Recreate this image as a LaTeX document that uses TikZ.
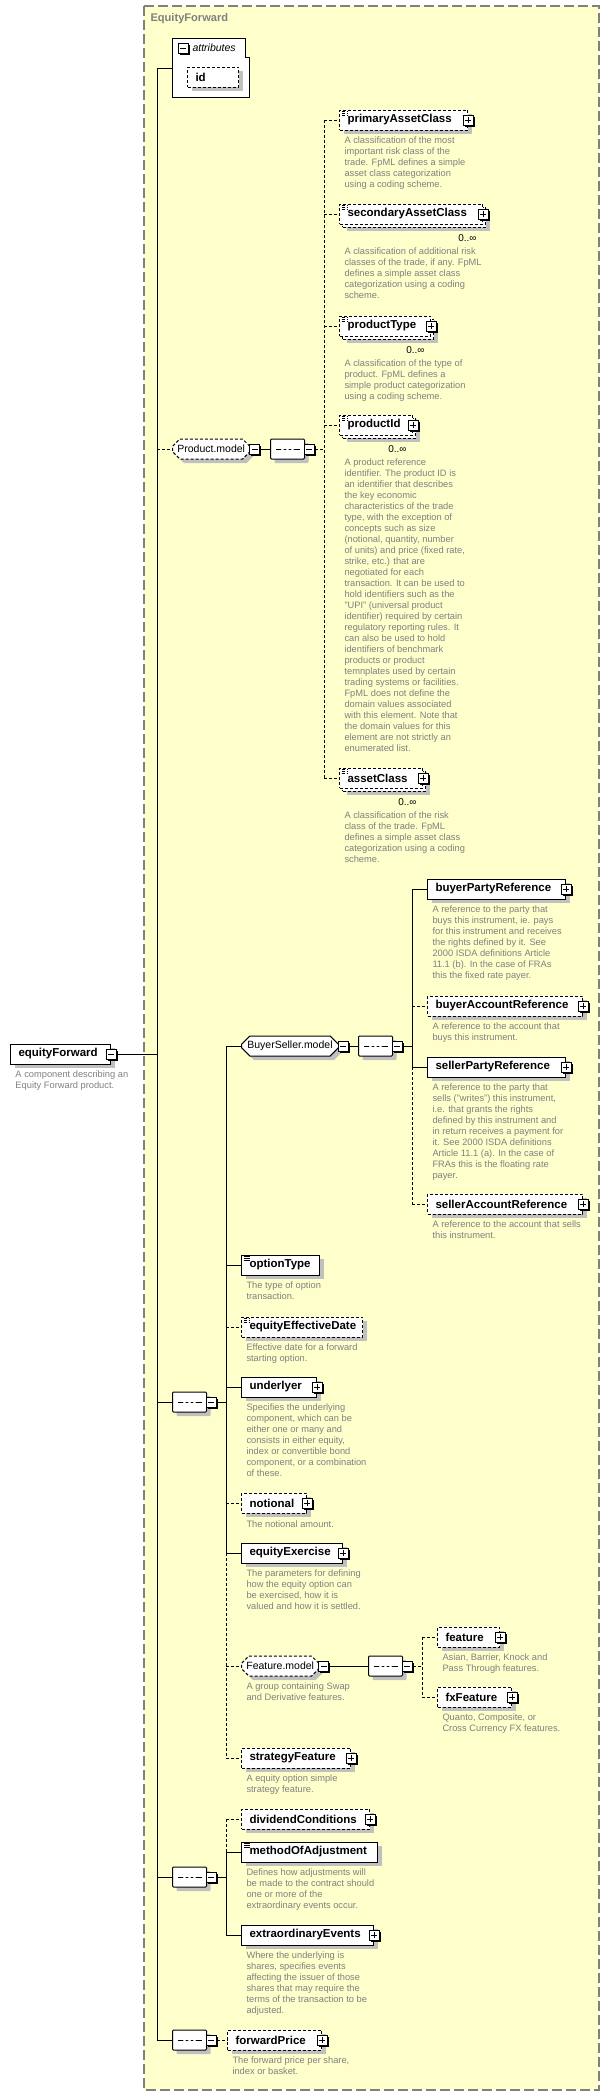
\documentclass[tikz,border=0pt]{standalone}
\usepackage{fontspec}
\setmainfont{Liberation Sans}
\usetikzlibrary{positioning, shapes.misc, shadows}
\definecolor{diagbg}{RGB}{255,255,204}
\definecolor{docgray}{RGB}{128,128,128}
\definecolor{shadegray}{RGB}{192,192,192}

\begin{document}
\begin{tikzpicture}[
    x=1pt, y=-1pt, line width=1pt,
    opt/.style={dash pattern=on 3pt off 2pt},
    elem/.style={draw, fill=white, anchor=west, minimum height=20pt, inner xsep=8pt, inner ysep=0pt,
        text width=#1, align=left, font=\fontsize{11.5}{13}\selectfont\bfseries,
        general shadow={fill=shadegray, shadow xshift=4pt, shadow yshift=-4pt}},
    many/.style={general shadow={fill=shadegray, shadow xshift=7pt, shadow yshift=-7pt},
        general shadow={draw, fill=white, dash pattern=on 3pt off 2pt, shadow xshift=3pt, shadow yshift=-3pt}},
    simple/.style={path picture={
        \draw[line width=0.7pt] ([xshift=2pt, yshift=-1.5pt]path picture bounding box.north west) -- ++(6pt,0)
            ([xshift=2pt, yshift=-3.5pt]path picture bounding box.north west) -- ++(6pt,0)
            ([xshift=2pt, yshift=-5.5pt]path picture bounding box.north west) -- ++(6pt,0);}},
    group/.style={chamfered rectangle, chamfered rectangle xsep=5pt, draw, fill=white, anchor=west,
        minimum height=20pt, inner xsep=1pt, inner ysep=0pt, font=\fontsize{10.5}{12}\selectfont,
        general shadow={fill=shadegray, shadow xshift=4pt, shadow yshift=-4pt}},
    seqbox/.style={group, minimum width=34pt, path picture={
        \draw[solid] ([xshift=-12pt]path picture bounding box.center) -- ([xshift=12pt]path picture bounding box.center);
        \fill ([xshift=-5pt]path picture bounding box.center) circle (1.7pt)
            (path picture bounding box.center) circle (1.7pt)
            ([xshift=5pt]path picture bounding box.center) circle (1.7pt);}},
    iconbox/.style={draw, fill=white, minimum size=10pt, inner sep=0pt, line width=0.8pt,
        general shadow={fill=black, shadow xshift=1.5pt, shadow yshift=-1.5pt}},
    plusicon/.style={iconbox, path picture={
        \draw[line width=0.8pt] ([xshift=-3pt]path picture bounding box.center) -- ([xshift=3pt]path picture bounding box.center)
            ([yshift=-3pt]path picture bounding box.center) -- ([yshift=3pt]path picture bounding box.center);}},
    minusicon/.style={iconbox, path picture={
        \draw[line width=0.8pt] ([xshift=-3pt]path picture bounding box.center) -- ([xshift=3pt]path picture bounding box.center);}},
    desc/.style={font=\fontsize{9.3}{11}\selectfont, text=docgray, align=left, inner sep=0pt, execute at begin node=\strut},
    mult/.style={font=\fontsize{10}{12}\selectfont, inner sep=0pt, anchor=east},
    title/.style={font=\fontsize{11.1}{13}\selectfont\bfseries, text=docgray, anchor=west, inner sep=0pt}
]
\useasboundingbox (0,0) rectangle (610,2096);
\draw[docgray, fill=diagbg, line width=1.2pt, dash pattern=on 10pt off 4pt] (144,6) rectangle (599,2090);
\node[title] (ttl) at (150,19) {EquityForward};

% attributes
\draw[fill=white] (172,38) -- (245,38) -- (245,57) -- (249,57) -- (249,97) -- (172,97) -- cycle;
\coordinate (attr) at (172,68);
\coordinate (spine) at (157,68);
\node[minusicon] (attrM) at (183,48) {};
\node[anchor=west, inner sep=0pt, font=\fontsize{10.5}{12}\selectfont\itshape] (attrL) at (192,48) {attributes};
\node[elem=35pt, opt] (id) at (187,77) {id};

% root
\node[elem=84pt] (ef) at (10,1054) {equityForward};
\node[minusicon] (efM) at (ef.east) {};
\node[desc, below right=6pt and 5pt of ef.south west] (efD) {A component describing an\\Equity Forward product.};

% Product.model
\node[group, opt, minimum width=76pt] (pm) at (172,449) {Product.model};
\node[minusicon, anchor=west] (pmM) at ([xshift=-1pt]pm.east) {};
\node[seqbox] (pseq) at (270,449) {};
\node[minusicon, anchor=west] (pseqM) at ([xshift=-1pt]pseq.east) {};
\coordinate (pbus) at (324,449);

\node[elem=112pt, opt, simple] (pac) at (339,120) {primaryAssetClass};
\node[plusicon] (pacP) at (pac.east) {};
\node[desc, below right=6pt and 5pt of pac.south west] (pacD) {A classification of the most\\important risk class of the\\trade. FpML defines a simple\\asset class categorization\\using a coding scheme.};

\node[elem=127pt, opt, many, simple] (sac) at (339,214) {secondaryAssetClass};
\node[plusicon] (sacP) at (sac.east) {};
\node[mult] (sacN) at ([xshift=-6pt, yshift=-14pt]sac.south east) {0..∞};
\node[desc, below right=23pt and 5pt of sac.south west] (sacD) {A classification of additional risk\\classes of the trade, if any. FpML\\defines a simple asset class\\categorization using a coding\\scheme.};

\node[elem=75pt, opt, many, simple] (pt) at (339,326) {productType};
\node[plusicon] (ptP) at (pt.east) {};
\node[mult] (ptN) at ([xshift=-6pt, yshift=-14pt]pt.south east) {0..∞};
\node[desc, below right=23pt and 5pt of pt.south west] (ptD) {A classification of the type of\\product. FpML defines a\\simple product categorization\\using a coding scheme.};

\node[elem=57pt, opt, many, simple] (pid) at (339,425) {productId};
\node[plusicon] (pidP) at (pid.east) {};
\node[mult] (pidN) at ([xshift=-6pt, yshift=-14pt]pid.south east) {0..∞};
\node[desc, below right=23pt and 5pt of pid.south west] (pidD) {A product reference\\identifier. The product ID is\\an identifier that describes\\the key economic\\characteristics of the trade\\type, with the exception of\\concepts such as size\\(notional, quantity, number\\of units) and price (fixed rate,\\strike, etc.) that are\\negotiated for each\\transaction. It can be used to\\hold identifiers such as the\\"UPI" (universal product\\identifier) required by certain\\regulatory reporting rules. It\\can also be used to hold\\identifiers of benchmark\\products or product\\temnplates used by certain\\trading systems or facilities.\\FpML does not define the\\domain values associated\\with this element. Note that\\the domain values for this\\element are not strictly an\\enumerated list.};

\node[elem=67pt, opt, many, simple] (ac) at (339,778) {assetClass};
\node[plusicon] (acP) at (ac.east) {};
\node[mult] (acN) at ([xshift=-6pt, yshift=-14pt]ac.south east) {0..∞};
\node[desc, below right=23pt and 5pt of ac.south west] (acD) {A classification of the risk\\class of the trade. FpML\\defines a simple asset class\\categorization using a coding\\scheme.};

% main sequence
\node[seqbox] (seqA) at (172,1402) {};
\node[minusicon, anchor=west] (seqAM) at ([xshift=-1pt]seqA.east) {};
\coordinate (busA) at (226,1402);

% BuyerSeller.model
\node[group, minimum width=96pt] (bsm) at (241,1046) {BuyerSeller.model};
\node[minusicon, anchor=west] (bsmM) at ([xshift=-1pt]bsm.east) {};
\node[seqbox] (bsseq) at (358,1046) {};
\node[minusicon, anchor=west] (bsseqM) at ([xshift=-1pt]bsseq.east) {};
\coordinate (bsbus) at (412,1046);

\node[elem=122pt] (bpr) at (427,889) {buyerPartyReference};
\node[plusicon] (bprP) at (bpr.east) {};
\node[desc, below right=6pt and 5pt of bpr.south west] (bprD) {A reference to the party that\\buys this instrument, ie. pays\\for this instrument and receives\\the rights defined by it. See\\2000 ISDA definitions Article\\11.1 (b). In the case of FRAs\\this the fixed rate payer.};

\node[elem=139pt, opt] (bar) at (427,1006) {buyerAccountReference};
\node[plusicon] (barP) at (bar.east) {};
\node[desc, below right=6pt and 5pt of bar.south west] (barD) {A reference to the account that\\buys this instrument.};

\node[elem=122pt] (spr) at (427,1067) {sellerPartyReference};
\node[plusicon] (sprP) at (spr.east) {};
\node[desc, below right=6pt and 5pt of spr.south west] (sprD) {A reference to the party that\\sells ("writes") this instrument,\\i.e. that grants the rights\\defined by this instrument and\\in return receives a payment for\\it. See 2000 ISDA definitions\\Article 11.1 (a). In the case of\\FRAs this is the floating rate\\payer.};

\node[elem=139pt, opt] (sar) at (427,1204) {sellerAccountReference};
\node[plusicon] (sarP) at (sar.east) {};
\node[desc, below right=6pt and 5pt of sar.south west] (sarD) {A reference to the account that sells\\this instrument.};

\node[elem=62pt, simple] (ot) at (241,1265) {optionType};
\node[desc, below right=6pt and 5pt of ot.south west] (otD) {The type of option\\transaction.};

\node[elem=105pt, opt, simple] (eed) at (241,1327) {equityEffectiveDate};
\node[desc, below right=6pt and 5pt of eed.south west] (eedD) {Effective date for a forward\\starting option.};

\node[elem=59pt] (und) at (241,1387) {underlyer};
\node[plusicon] (undP) at (und.east) {};
\node[desc, below right=6pt and 5pt of und.south west] (undD) {Specifies the underlying\\component, which can be\\either one or many and\\consists in either equity,\\index or convertible bond\\component, or a combination\\of these.};

\node[elem=49pt, opt] (ntl) at (241,1503) {notional};
\node[plusicon] (ntlP) at (ntl.east) {};
\node[desc, below right=6pt and 5pt of ntl.south west] (ntlD) {The notional amount.};

\node[elem=85pt] (ex) at (241,1553) {equityExercise};
\node[plusicon] (exP) at (ex.east) {};
\node[desc, below right=6pt and 5pt of ex.south west] (exD) {The parameters for defining\\how the equity option can\\be exercised, how it is\\valued and how it is settled.};

% Feature.model
\node[group, opt, minimum width=77pt] (fm) at (241,1666) {Feature.model};
\node[minusicon, anchor=west] (fmM) at ([xshift=-1pt]fm.east) {};
\node[desc, below right=16pt and 5pt of fm.west] (fmD) {A group containing Swap\\and Derivative features.};
\node[seqbox] (fseq) at (368,1666) {};
\node[minusicon, anchor=west] (fseqM) at ([xshift=-1pt]fseq.east) {};
\coordinate (fbus) at (422,1666);

\node[elem=46pt, opt] (feat) at (437,1637) {feature};
\node[plusicon] (featP) at (feat.east) {};
\node[desc, below right=6pt and 5pt of feat.south west] (featD) {Asian, Barrier, Knock and\\Pass Through features.};

\node[elem=58pt, opt] (fxf) at (437,1697) {fxFeature};
\node[plusicon] (fxfP) at (fxf.east) {};
\node[desc, below right=6pt and 5pt of fxf.south west] (fxfD) {Quanto, Composite, or\\Cross Currency FX features.};

\node[elem=93pt, opt] (stf) at (241,1758) {strategyFeature};
\node[plusicon] (stfP) at (stf.east) {};
\node[desc, below right=6pt and 5pt of stf.south west] (stfD) {A equity option simple\\strategy feature.};

% second sequence
\node[seqbox] (seqB) at (172,1877) {};
\node[minusicon, anchor=west] (seqBM) at ([xshift=-1pt]seqB.east) {};
\coordinate (busB) at (226,1877);

\node[elem=112pt, opt] (dc) at (241,1819) {dividendConditions};
\node[plusicon] (dcP) at (dc.east) {};

\node[elem=120pt, simple] (moa) at (241,1852) {methodOfAdjustment};
\node[desc, below right=6pt and 5pt of moa.south west] (moaD) {Defines how adjustments will\\be made to the contract should\\one or more of the\\extraordinary events occur.};

\node[elem=116pt] (xe) at (241,1935) {extraordinaryEvents};
\node[plusicon] (xeP) at (xe.east) {};
\node[desc, below right=6pt and 5pt of xe.south west] (xeD) {Where the underlying is\\shares, specifies events\\affecting the issuer of those\\shares that may require the\\terms of the transaction to be\\adjusted.};

% third sequence
\node[seqbox] (seqC) at (172,2040) {};
\node[minusicon, anchor=west] (seqCM) at ([xshift=-1pt]seqC.east) {};

\node[elem=78pt, opt] (fp) at (227,2040) {forwardPrice};
\node[plusicon] (fpP) at (fp.east) {};
\node[desc, below right=6pt and 5pt of fp.south west] (fpD) {The forward price per share,\\index or basket.};

% connectors
\draw (attr) -- (spine) -- (seqC.west -| spine) -- (seqC.west);
\draw (efM.east) -- (efM.east -| spine);
\draw[opt] (pm.west -| spine) -- (pm.west);
\draw (seqA.west -| spine) -- (seqA.west);
\draw (seqB.west -| spine) -- (seqB.west);

\draw (pmM.east) -- (pseq.west);
\draw[opt] (pseqM.east) -- (pbus);
\draw[opt] (pac.west -| pbus) -- (ac.west -| pbus);
\draw[opt] (pac.west -| pbus) -- (pac.west);
\draw[opt] (sac.west -| pbus) -- (sac.west);
\draw[opt] (pt.west -| pbus) -- (pt.west);
\draw[opt] (pid.west -| pbus) -- (pid.west);
\draw[opt] (ac.west -| pbus) -- (ac.west);

\draw (seqAM.east) -- (busA);
\draw (bsm.west -| busA) -- (ex.west -| busA);
\draw[opt] (ex.west -| busA) -- (stf.west -| busA);
\draw (bsm.west -| busA) -- (bsm.west);
\draw (ot.west -| busA) -- (ot.west);
\draw[opt] (eed.west -| busA) -- (eed.west);
\draw (und.west -| busA) -- (und.west);
\draw[opt] (ntl.west -| busA) -- (ntl.west);
\draw (ex.west -| busA) -- (ex.west);
\draw[opt] (fm.west -| busA) -- (fm.west);
\draw[opt] (stf.west -| busA) -- (stf.west);

\draw (bsmM.east) -- (bsseq.west);
\draw (bsseqM.east) -- (bsbus);
\draw (bpr.west -| bsbus) -- (spr.west -| bsbus);
\draw[opt] (spr.west -| bsbus) -- (sar.west -| bsbus);
\draw (bpr.west -| bsbus) -- (bpr.west);
\draw[opt] (bar.west -| bsbus) -- (bar.west);
\draw (spr.west -| bsbus) -- (spr.west);
\draw[opt] (sar.west -| bsbus) -- (sar.west);

\draw (fmM.east) -- (fseq.west);
\draw[opt] (fseqM.east) -- (fbus);
\draw[opt] (feat.west -| fbus) -- (fxf.west -| fbus);
\draw[opt] (feat.west -| fbus) -- (feat.west);
\draw[opt] (fxf.west -| fbus) -- (fxf.west);

\draw (seqBM.east) -- (busB);
\draw[opt] (dc.west -| busB) -- (moa.west -| busB);
\draw (moa.west -| busB) -- (xe.west -| busB);
\draw[opt] (dc.west -| busB) -- (dc.west);
\draw (moa.west -| busB) -- (moa.west);
\draw (xe.west -| busB) -- (xe.west);

\draw[opt] (seqCM.east) -- (fp.west);
\end{tikzpicture}
\end{document}
